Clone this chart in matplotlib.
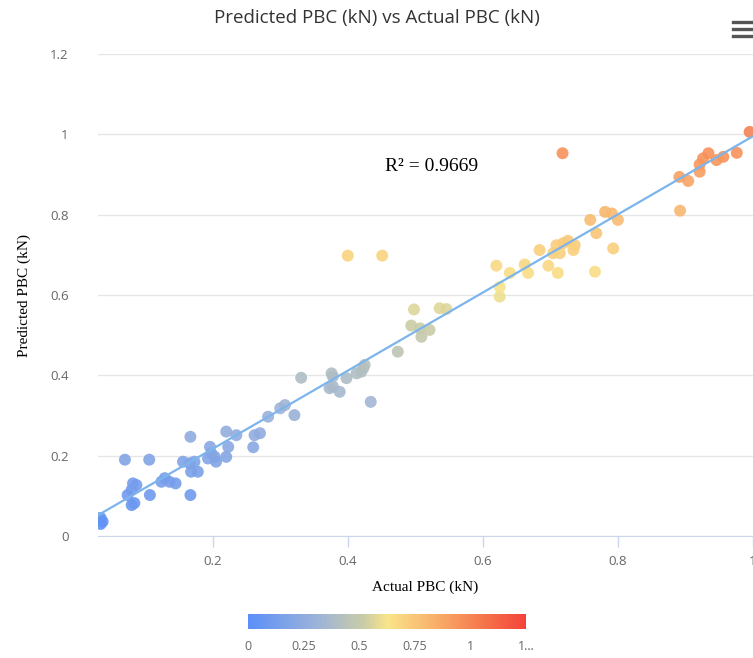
import numpy as np
import matplotlib
matplotlib.use("Agg")
import matplotlib.pyplot as plt
from matplotlib.colors import LinearSegmentedColormap, Normalize
from matplotlib.lines import Line2D

# values
actual = [
    0.034, 0.034, 0.037, 0.070, 0.106, 0.167, 0.074, 0.080, 0.087, 0.082,
    0.080, 0.084, 0.107, 0.124, 0.129, 0.136, 0.145, 0.167, 0.156, 0.166,
    0.173, 0.168, 0.178, 0.196, 0.198, 0.203, 0.193, 0.205, 0.220, 0.223,
    0.220, 0.235, 0.260, 0.262, 0.270, 0.282, 0.300, 0.307, 0.321,
    0.331, 0.376, 0.378, 0.373, 0.378, 0.388, 0.398, 0.413, 0.420, 0.423,
    0.425, 0.434, 0.474,
    0.400, 0.451, 0.498, 0.536, 0.546, 0.494, 0.507, 0.521, 0.509,
    0.625, 0.625, 0.620, 0.640, 0.662, 0.667, 0.697, 0.711, 0.766, 0.793,
    0.684, 0.704, 0.714, 0.709, 0.719, 0.726, 0.736, 0.734,
    0.768, 0.759, 0.781, 0.791, 0.800,
    0.718, 0.892, 0.891, 0.904, 0.921, 0.921, 0.926, 0.934, 0.946, 0.956,
    0.976, 0.995,
]
predicted = [
    0.030, 0.045, 0.036, 0.190, 0.190, 0.247, 0.102, 0.115, 0.127, 0.131,
    0.077, 0.082, 0.102, 0.135, 0.144, 0.135, 0.131, 0.102, 0.185, 0.181,
    0.185, 0.160, 0.160, 0.222, 0.206, 0.197, 0.193, 0.185, 0.197, 0.222,
    0.260, 0.251, 0.221, 0.251, 0.256, 0.297, 0.318, 0.326, 0.301,
    0.394, 0.405, 0.397, 0.368, 0.372, 0.359, 0.393, 0.405, 0.409, 0.418,
    0.426, 0.334, 0.459,
    0.698, 0.698, 0.564, 0.567, 0.565, 0.524, 0.517, 0.513, 0.496,
    0.596, 0.620, 0.673, 0.655, 0.676, 0.655, 0.673, 0.655, 0.658, 0.716,
    0.712, 0.704, 0.704, 0.724, 0.729, 0.735, 0.724, 0.712,
    0.754, 0.787, 0.807, 0.803, 0.787,
    0.953, 0.810, 0.894, 0.884, 0.907, 0.925, 0.940, 0.953, 0.936, 0.944,
    0.954, 1.006,
]
r2_text = "R² = 0.9669"
cbar_ticks = [0, 0.25, 0.5, 0.75, 1, 1.25]
cbar_labels = ["0", "0.25", "0.5", "0.75", "1", "1…"]

x = np.array(actual)
y = np.array(predicted)
slope, icpt = np.polyfit(x, y, 1)

cmap = LinearSegmentedColormap.from_list("pbc", [
    (0.0, "#5B8FF9"), (0.25, "#9DB3D8"), (0.42, "#CBCDA6"),
    (0.5, "#F9E58A"), (0.7, "#F8A765"), (0.85, "#F5744B"), (1.0, "#F4433A")])
norm = Normalize(0, 1.25)

fig = plt.figure(figsize=(7.53, 6.58), dpi=100)
ax = fig.add_axes([0.130, 0.1854, 0.870, 0.7325])

ax.scatter(x, y, c=y, cmap=cmap, norm=norm, s=74, alpha=0.9,
           edgecolors="none", zorder=3)
xl = np.array([0.03, 1.0])
ax.plot(xl, slope * xl + icpt, color="#7cb5ec", lw=1.6, zorder=4)

ax.set_xlim(0.03, 1.0)
ax.set_ylim(0, 1.2)
ax.set_xticks([0.2, 0.4, 0.6, 0.8, 1.0])
ax.set_xticklabels(["0.2", "0.4", "0.6", "0.8", "1"])
ax.set_yticks([0, 0.2, 0.4, 0.6, 0.8, 1.0, 1.2])
ax.set_yticklabels(["0", "0.2", "0.4", "0.6", "0.8", "1", "1.2"])
ax.grid(axis="y", color="#e6e6e6", lw=1)
ax.set_axisbelow(True)
for s in ["top", "right", "left"]:
    ax.spines[s].set_visible(False)
ax.spines["bottom"].set_color("#ccd6eb")
ax.tick_params(axis="x", color="#ccd6eb", length=8, width=1, pad=6,
               labelcolor="#666666", labelsize=9.5)
ax.tick_params(axis="y", length=0, pad=21, labelcolor="#666666", labelsize=9.5)
for lab in ax.get_xticklabels() + ax.get_yticklabels():
    lab.set_family("Open Sans")

ax.set_xlabel("Actual PBC (kN)", family="Liberation Serif", fontsize=11,
              labelpad=9)
ax.set_ylabel("Predicted PBC (kN)", family="Liberation Serif", fontsize=11,
              labelpad=14)
ax.text(0.455, 0.919, r2_text, family="Liberation Serif", fontsize=14,
        va="center", ha="left")

fig.text(0.5, 0.972, "Predicted PBC (kN) vs Actual PBC (kN)", ha="center",
         va="center", fontsize=13.5, color="#333333", family="Open Sans")

# menu icon top right
for yy in [0.967, 0.956, 0.945]:
    fig.add_artist(Line2D([0.973, 1.0], [yy, yy], color="#555555", lw=2.4))

cax = fig.add_axes([0.329, 0.044, 0.370, 0.023])
cb = fig.colorbar(plt.cm.ScalarMappable(norm=norm, cmap=cmap), cax=cax,
                  orientation="horizontal")
cb.outline.set_visible(False)
cb.set_ticks(cbar_ticks)
cb.set_ticklabels(cbar_labels)
cax.tick_params(length=0, pad=8, labelcolor="#666666", labelsize=9)
for lab in cax.get_xticklabels():
    lab.set_family("Open Sans")

fig.savefig("out.png", dpi=100)
